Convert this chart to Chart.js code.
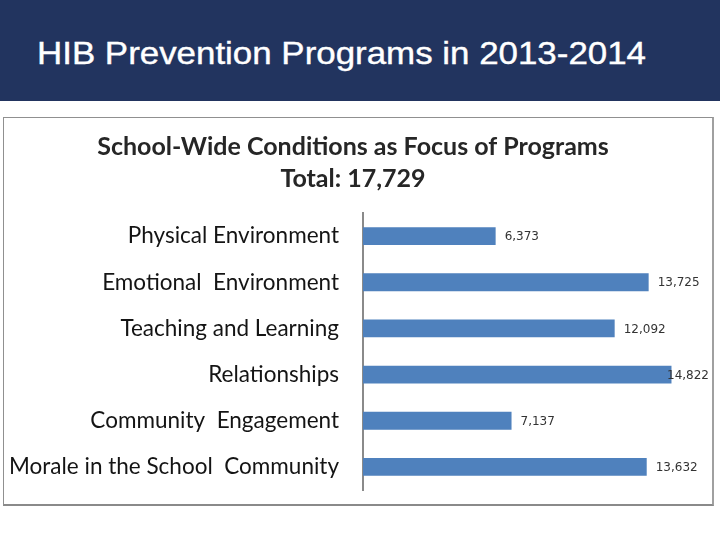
<!DOCTYPE html>
<html>
<head>
<meta charset="utf-8">
<script src="https://cdn.jsdelivr.net/npm/chart.js@4.4.1/dist/chart.umd.min.js"></script>
<style>
  html, body { margin: 0; padding: 0; background: #ffffff; width: 720px; height: 540px; overflow: hidden; }
  #header { position: absolute; left: 0; top: 0; width: 720px; height: 101px; background: #22345f; }
  #htitle { position: absolute; left: 37px; top: 37px; color: #ffffff; font-family: "Liberation Sans Narrow", "Liberation Sans", Arial, sans-serif; font-size: 32px; white-space: nowrap; transform-origin: 0 0; line-height: 1; -webkit-text-stroke: 0.4px #ffffff; }
  #box { position: absolute; left: 3px; top: 117px; width: 708px; height: 386px; border: 1px solid #909090; border-bottom: 2px solid #8a8a8a; border-right: 2px solid #a0a0a0; }
  #wrap { position: absolute; left: 0; top: 0; width: 720px; height: 540px; }
</style>
</head>
<body>
<div id="header"><div id="htitle">HIB Prevention Programs in 2013-2014</div></div>
<div id="box"></div>
<div id="wrap"><canvas id="c" width="720" height="540"></canvas></div>
<script>
const categories = ["Physical Environment", "Emotional  Environment", "Teaching and Learning", "Relationships", "Community  Engagement", "Morale in the School  Community"];
const values = [6373, 13725, 12092, 14822, 7137, 13632];
const chartTitle = ["School-Wide Conditions as Focus of Programs", "Total: 17,729"];

// fit header title width
const ht = document.getElementById('htitle');
const targetW = 609;
const w = ht.getBoundingClientRect().width;
ht.style.transform = 'scaleX(' + (targetW / w) + ')';

const labelPlugin = {
  id: 'barLabels',
  afterDatasetsDraw(chart) {
    const ctx = chart.ctx;
    const meta = chart.getDatasetMeta(0);
    ctx.save();
    ctx.font = '12px "DejaVu Sans", Verdana, sans-serif';
    ctx.fillStyle = '#333333';
    ctx.textBaseline = 'middle';
    ctx.textAlign = 'left';
    meta.data.forEach((bar, i) => {
      const txt = values[i].toLocaleString('en-US');
      const tw = ctx.measureText(txt).width;
      let x = bar.x + 9;
      if (x + tw > 709) x = 709 - tw;
      ctx.fillText(txt, x, bar.y + 1);
    });
    ctx.restore();
  }
};

new Chart(document.getElementById('c'), {
  type: 'bar',
  data: {
    labels: categories,
    datasets: [{
      data: values,
      backgroundColor: '#4f81bd',
      borderWidth: 0,
      barPercentage: 0.77,
      categoryPercentage: 0.5
    }]
  },
  options: {
    indexAxis: 'y',
    responsive: false,
    animation: false,
    layout: { padding: { top: 128, bottom: 50, left: 10, right: 24 } },
    plugins: {
      legend: { display: false },
      tooltip: { enabled: false },
      title: {
        display: true,
        text: chartTitle,
        color: '#262626',
        font: { family: 'Lato, "Open Sans", sans-serif', size: 25, weight: 'bold', lineHeight: 1.28 },
        padding: { top: 3, bottom: 18 }
      }
    },
    scales: {
      x: { display: false, min: 0, max: 16000 },
      y: {
        afterFit(scale) { scale.width = 353; },
        grid: { display: false },
        border: { display: true, color: '#8a8a8a', width: 2 },
        ticks: {
          color: '#141414',
          padding: 16,
          font: { family: 'Lato, "Open Sans", sans-serif', size: 22.5 }
        }
      }
    }
  },
  plugins: [labelPlugin]
});
</script>
</body>
</html>
